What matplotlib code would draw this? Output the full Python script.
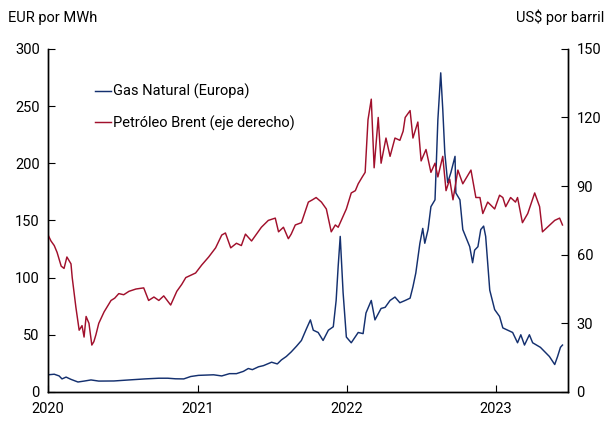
import pandas as pd
import matplotlib.pyplot as plt
import matplotlib.dates as mdates

plt.rcParams['font.family'] = ['Roboto', 'DejaVu Sans']

# Gas natural Europa (EUR por MWh)
gas_fechas = [
    '2020-01-01', '2020-01-16', '2020-01-28', '2020-02-04', '2020-02-14', '2020-02-26',
    '2020-03-14', '2020-03-29', '2020-04-15', '2020-05-04', '2020-06-10', '2020-07-17',
    '2020-08-25', '2020-09-28', '2020-10-20', '2020-11-08', '2020-11-28', '2020-12-15',
    '2021-01-03', '2021-02-09', '2021-03-01', '2021-03-20', '2021-04-06', '2021-04-23',
    '2021-05-05', '2021-05-15', '2021-05-30', '2021-06-11', '2021-07-01', '2021-07-15',
    '2021-07-25', '2021-08-06', '2021-08-18', '2021-08-31', '2021-09-12', '2021-09-24',
    '2021-10-04', '2021-10-11', '2021-10-23', '2021-11-04', '2021-11-17', '2021-11-29',
    '2021-12-06', '2021-12-11', '2021-12-16', '2021-12-23', '2021-12-31',
    '2022-01-12', '2022-01-29', '2022-02-10', '2022-02-17', '2022-03-02', '2022-03-11',
    '2022-03-26', '2022-04-05', '2022-04-17', '2022-04-29', '2022-05-11', '2022-05-24',
    '2022-06-05', '2022-06-12', '2022-06-19', '2022-06-29', '2022-07-06', '2022-07-11',
    '2022-07-19', '2022-07-26', '2022-08-05', '2022-08-07', '2022-08-12', '2022-08-19',
    '2022-08-24', '2022-08-29', '2022-09-05', '2022-09-13', '2022-09-23', '2022-09-25',
    '2022-10-05', '2022-10-12', '2022-10-29', '2022-11-05', '2022-11-10', '2022-11-18',
    '2022-11-25', '2022-12-02', '2022-12-07', '2022-12-17', '2022-12-29',
    '2023-01-10', '2023-01-18', '2023-01-30', '2023-02-11', '2023-02-23', '2023-03-03',
    '2023-03-12', '2023-03-24', '2023-04-01', '2023-04-20', '2023-05-12', '2023-05-25',
    '2023-06-01', '2023-06-08', '2023-06-13',
]
gas_valores = [
    15, 15.5, 14, 11.4, 13, 11,
    8.7, 9.5, 10.5, 9.5, 9.6, 10.5,
    11.4, 12, 12, 11.5, 11.4, 13.5,
    14.5, 15, 14, 16, 16, 18,
    20.5, 19.5, 22, 23, 26, 24.5,
    28, 31, 35, 40, 45, 55,
    63, 54, 52, 45, 54, 57,
    80, 110, 136, 87, 48,
    43, 52, 51, 69, 80, 63,
    73, 74, 80, 83, 78, 80,
    82, 92, 104, 130, 143, 130,
    142, 162, 168, 188, 238, 279,
    247, 209, 183, 192, 206, 174,
    168, 142, 127, 113, 124, 127,
    142, 145, 136, 89, 72,
    66, 56, 54, 52, 43, 50,
    41, 50, 43, 39, 31, 24,
    31, 39, 41,
]

# Petroleo Brent (US$ por barril)
brent_fechas = [
    '2020-01-01', '2020-01-08', '2020-01-16', '2020-01-23', '2020-02-02', '2020-02-09',
    '2020-02-16', '2020-02-26', '2020-02-29', '2020-03-09', '2020-03-17', '2020-03-24',
    '2020-03-29', '2020-04-03', '2020-04-10', '2020-04-17', '2020-04-22', '2020-04-27',
    '2020-05-04', '2020-05-17', '2020-06-03', '2020-06-12', '2020-06-22', '2020-07-04',
    '2020-07-17', '2020-08-03', '2020-08-22', '2020-09-03', '2020-09-16', '2020-09-28',
    '2020-10-10', '2020-10-27', '2020-11-11', '2020-11-23', '2020-12-03', '2020-12-15',
    '2020-12-27',
    '2021-01-11', '2021-01-28', '2021-02-14', '2021-03-01', '2021-03-10', '2021-03-23',
    '2021-04-06', '2021-04-18', '2021-04-28', '2021-05-13', '2021-05-25', '2021-06-06',
    '2021-06-23', '2021-07-10', '2021-07-18', '2021-07-30', '2021-08-11', '2021-08-18',
    '2021-08-28', '2021-09-12', '2021-09-29', '2021-10-09', '2021-10-18', '2021-10-31',
    '2021-11-12', '2021-11-24', '2021-12-04', '2021-12-11', '2021-12-21', '2021-12-31',
    '2022-01-12', '2022-01-22', '2022-01-29', '2022-02-08', '2022-02-15', '2022-02-22',
    '2022-03-02', '2022-03-09', '2022-03-19', '2022-03-26', '2022-04-07', '2022-04-17',
    '2022-04-29', '2022-05-11', '2022-05-19', '2022-05-24', '2022-06-05', '2022-06-12',
    '2022-06-24', '2022-07-02', '2022-07-14', '2022-07-26', '2022-08-05', '2022-08-12',
    '2022-08-24', '2022-09-01', '2022-09-10', '2022-09-18', '2022-09-30', '2022-10-12',
    '2022-11-01', '2022-11-13', '2022-11-23', '2022-11-30', '2022-12-12', '2022-12-29',
    '2023-01-10', '2023-01-18', '2023-01-25', '2023-02-06', '2023-02-18', '2023-02-23',
    '2023-03-07', '2023-03-20', '2023-04-06', '2023-04-18', '2023-04-25', '2023-05-07',
    '2023-05-25', '2023-06-06', '2023-06-13',
]
brent_valores = [
    68.6, 66, 64, 61, 55, 54,
    59, 56, 50, 37, 27, 29,
    24, 33, 30, 20.5, 22, 25,
    30, 35, 40, 41, 43, 42.5,
    44, 45, 45.5, 40, 41.5, 40,
    42, 38, 44, 47, 50, 51,
    52,
    55.5, 59, 63, 68.6, 69.5, 63,
    65, 64, 69, 66, 69, 72,
    75, 76, 70, 72, 67, 69,
    73, 74, 83, 84, 85, 83,
    80, 70, 73, 72, 76, 80,
    87, 88, 91, 94, 96, 119,
    128, 98, 120, 100, 111, 103,
    111, 110, 114, 120, 123, 111,
    118, 101, 106, 96, 100, 94,
    103, 88, 93, 84, 97, 91,
    97, 85, 85, 78, 83, 80,
    86, 85, 81, 85, 83, 85,
    74, 78, 87, 81, 70, 72,
    75, 76, 73,
]

azul = '#14306f'
rojo = '#a1102c'

gas = pd.Series(gas_valores, index=pd.to_datetime(gas_fechas))
brent = pd.Series(brent_valores, index=pd.to_datetime(brent_fechas))

fig = plt.figure(figsize=(6.09, 4.21), dpi=100)
ax = fig.add_axes([0.079, 0.069, 0.854, 0.815])
ax2 = ax.twinx()

l1, = ax.plot(gas.index, gas.values, color=azul, lw=1.05, label='Gas Natural (Europa)')
l2, = ax2.plot(brent.index, brent.values, color=rojo, lw=1.05, label='Petróleo Brent (eje derecho)')

ax.set_xlim(pd.Timestamp('2020-01-01'), pd.Timestamp('2023-06-27'))
ax.set_ylim(0, 300)
ax2.set_ylim(0, 150)
ax.set_yticks([0, 50, 100, 150, 200, 250, 300])
ax2.set_yticks([0, 30, 60, 90, 120, 150])
ax.xaxis.set_major_locator(mdates.YearLocator())
ax.xaxis.set_major_formatter(mdates.DateFormatter('%Y'))

for a in (ax, ax2):
    a.spines['top'].set_visible(False)
    for s in a.spines.values():
        s.set_linewidth(1.0)
ax.tick_params(axis='both', direction='in', length=5, labelsize=10.5, pad=6)
ax2.tick_params(axis='y', direction='in', length=5, labelsize=10.5, pad=6)
ax.tick_params(axis='x', pad=7)

fig.text(0.013, 0.958, 'EUR por MWh', fontsize=10.5, ha='left', va='center')
fig.text(0.993, 0.958, 'US$ por barril', fontsize=10.5, ha='right', va='center')

ax.legend([l1, l2], [l1.get_label(), l2.get_label()], loc='upper left',
          bbox_to_anchor=(0.078, 0.915), frameon=False, fontsize=10.5,
          handlelength=1.1, handletextpad=0.2, labelspacing=1.1, borderaxespad=0)

fig.savefig('out.png', dpi=100)
